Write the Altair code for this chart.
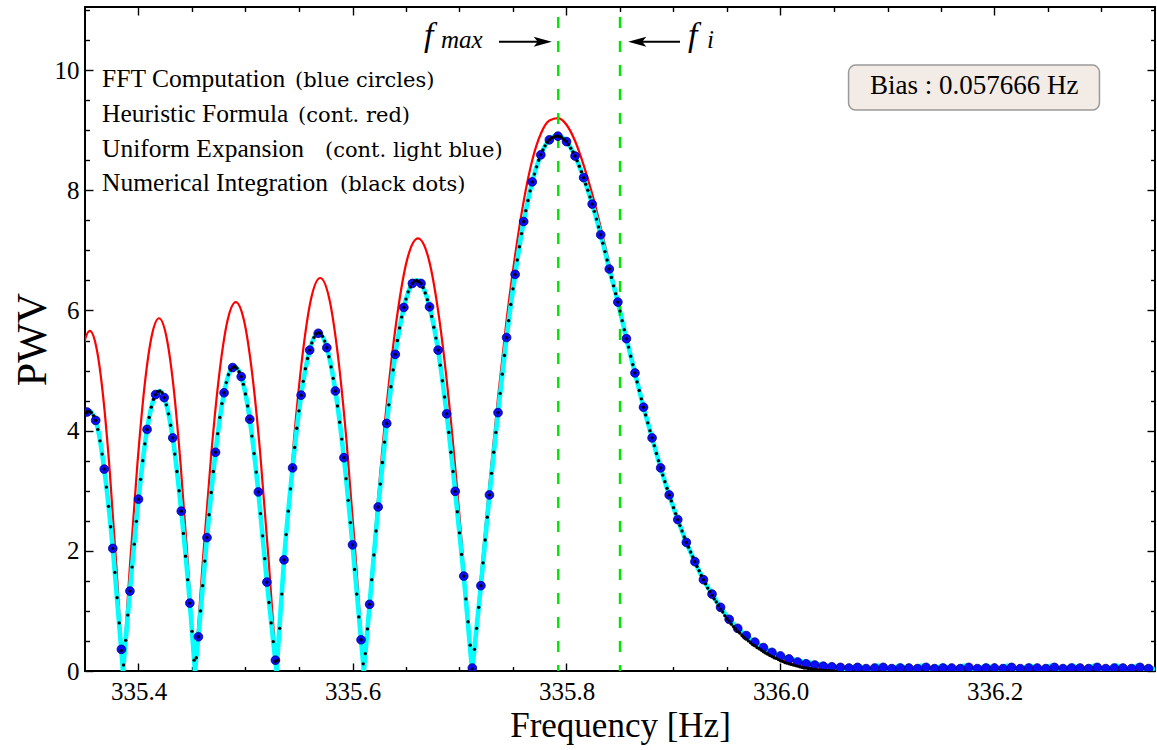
import altair as alt
import pandas as pd

# ---------------- axes / ranges ----------------
X_DOMAIN = [335.35, 336.35]
Y_DOMAIN = [0.0, 11.05]
x_major = [335.4, 335.6, 335.8, 336.0, 336.2]
x_minor = [335.45, 335.5, 335.55, 335.65, 335.7, 335.75, 335.85, 335.9, 335.95,
           336.05, 336.1, 336.15, 336.25, 336.3]
y_major = [0, 2, 4, 6, 8, 10]
y_minor = [0.5, 1, 1.5, 2.5, 3, 3.5, 4.5, 5, 5.5, 6.5, 7, 7.5, 8.5, 9, 9.5, 10.5, 11]

# ---------------- FFT computation (blue circles) ----------------
fft_x = [
    335.352, 335.360, 335.368, 335.376, 335.384, 335.392, 335.400, 335.408, 335.416, 335.424,
    335.432, 335.440, 335.448, 335.456, 335.464, 335.472, 335.480, 335.488, 335.496, 335.504,
    335.512, 335.520, 335.528, 335.536, 335.544, 335.552, 335.560, 335.568, 335.576, 335.584,
    335.592, 335.600, 335.608, 335.616, 335.624, 335.632, 335.640, 335.648, 335.656, 335.664,
    335.672, 335.680, 335.688, 335.696, 335.704, 335.712, 335.720, 335.728, 335.736, 335.744,
    335.752, 335.760, 335.768, 335.776, 335.784, 335.792, 335.800, 335.808, 335.816, 335.824,
    335.832, 335.840, 335.848, 335.856, 335.864, 335.872, 335.880, 335.888, 335.896, 335.904,
    335.912, 335.920, 335.928, 335.936, 335.944, 335.952, 335.960, 335.968, 335.976, 335.984,
    335.992, 336.000, 336.008, 336.016, 336.024, 336.032, 336.040, 336.048, 336.056, 336.064,
    336.072, 336.080, 336.088, 336.096, 336.104, 336.112, 336.120, 336.128, 336.136, 336.144,
    336.152, 336.160, 336.168, 336.176, 336.184, 336.192, 336.200, 336.208, 336.216, 336.224,
    336.232, 336.240, 336.248, 336.256, 336.264, 336.272, 336.280, 336.288, 336.296, 336.304,
    336.312, 336.320, 336.328, 336.336, 336.344]
fft_y = [
    4.31, 4.17, 3.36, 2.04, 0.36, 1.33, 2.86, 4.02, 4.60, 4.55,
    3.88, 2.66, 1.13, 0.57, 2.22, 3.64, 4.63, 5.05, 4.90, 4.19,
    2.98, 1.48, 0.18, 1.85, 3.38, 4.59, 5.34, 5.62, 5.38, 4.66,
    3.55, 2.10, 0.52, 1.11, 2.73, 4.12, 5.27, 6.05, 6.45, 6.45,
    6.06, 5.34, 4.28, 2.99, 1.58, 0.05, 1.42, 2.93, 4.30, 5.55,
    6.60, 7.48, 8.14, 8.59, 8.84, 8.90, 8.81, 8.57, 8.21, 7.77,
    7.26, 6.69, 6.14, 5.53, 4.96, 4.39, 3.88, 3.38, 2.93, 2.52,
    2.14, 1.82, 1.52, 1.28, 1.06, 0.86, 0.71, 0.59, 0.48, 0.39,
    0.31, 0.25, 0.20, 0.15, 0.12, 0.10, 0.08, 0.07, 0.06, 0.05,
    0.06, 0.04, 0.05, 0.06, 0.04, 0.05, 0.05, 0.04, 0.06, 0.04,
    0.05, 0.05, 0.04, 0.06, 0.04, 0.05, 0.05, 0.04, 0.06, 0.04,
    0.05, 0.05, 0.04, 0.06, 0.04, 0.05, 0.05, 0.04, 0.06, 0.04,
    0.05, 0.05, 0.04, 0.06, 0.04]

# ---------------- Numerical integration (black dots) ----------------
black_x = [
    335.350, 335.352, 335.354, 335.356, 335.358, 335.360, 335.362, 335.364, 335.366, 335.368,
    335.370, 335.372, 335.374, 335.376, 335.378, 335.380, 335.382, 335.384, 335.386, 335.388,
    335.390, 335.392, 335.394, 335.396, 335.398, 335.400, 335.402, 335.404, 335.406, 335.408,
    335.410, 335.412, 335.414, 335.416, 335.418, 335.420, 335.422, 335.424, 335.426, 335.428,
    335.430, 335.432, 335.434, 335.436, 335.438, 335.440, 335.442, 335.444, 335.446, 335.448,
    335.450, 335.452, 335.454, 335.456, 335.458, 335.460, 335.462, 335.464, 335.466, 335.468,
    335.470, 335.472, 335.474, 335.476, 335.478, 335.480, 335.482, 335.484, 335.486, 335.488,
    335.490, 335.492, 335.494, 335.496, 335.498, 335.500, 335.502, 335.504, 335.506, 335.508,
    335.510, 335.512, 335.514, 335.516, 335.518, 335.520, 335.522, 335.524, 335.526, 335.528,
    335.530, 335.532, 335.534, 335.536, 335.538, 335.540, 335.542, 335.544, 335.546, 335.548,
    335.550, 335.552, 335.554, 335.556, 335.558, 335.560, 335.562, 335.564, 335.566, 335.568,
    335.570, 335.572, 335.574, 335.576, 335.578, 335.580, 335.582, 335.584, 335.586, 335.588,
    335.590, 335.592, 335.594, 335.596, 335.598, 335.600, 335.602, 335.604, 335.606, 335.608,
    335.610, 335.612, 335.614, 335.616, 335.618, 335.620, 335.622, 335.624, 335.626, 335.628,
    335.630, 335.632, 335.634, 335.636, 335.638, 335.640, 335.642, 335.644, 335.646, 335.648,
    335.650, 335.652, 335.654, 335.656, 335.658, 335.660, 335.662, 335.664, 335.666, 335.668,
    335.670, 335.672, 335.674, 335.676, 335.678, 335.680, 335.682, 335.684, 335.686, 335.688,
    335.690, 335.692, 335.694, 335.696, 335.698, 335.700, 335.702, 335.704, 335.706, 335.708,
    335.710, 335.712, 335.714, 335.716, 335.718, 335.720, 335.722, 335.724, 335.726, 335.728,
    335.730, 335.732, 335.734, 335.736, 335.738, 335.740, 335.742, 335.744, 335.746, 335.748,
    335.750, 335.752, 335.754, 335.756, 335.758, 335.760, 335.762, 335.764, 335.766, 335.768,
    335.770, 335.772, 335.774, 335.776, 335.778, 335.780, 335.782, 335.784, 335.786, 335.788,
    335.790, 335.792, 335.794, 335.796, 335.798, 335.800, 335.802, 335.804, 335.806, 335.808,
    335.810, 335.812, 335.814, 335.816, 335.818, 335.820, 335.822, 335.824, 335.826, 335.828,
    335.830, 335.832, 335.834, 335.836, 335.838, 335.840, 335.842, 335.844, 335.846, 335.848,
    335.850, 335.852, 335.854, 335.856, 335.858, 335.860, 335.862, 335.864, 335.866, 335.868,
    335.870, 335.872, 335.874, 335.876, 335.878, 335.880, 335.882, 335.884, 335.886, 335.888,
    335.890, 335.892, 335.894, 335.896, 335.898, 335.900, 335.902, 335.904, 335.906, 335.908,
    335.910, 335.912, 335.914, 335.916, 335.918, 335.920, 335.922, 335.924, 335.926, 335.928,
    335.930, 335.932, 335.934, 335.936, 335.938, 335.940, 335.942, 335.944, 335.946, 335.948,
    335.950, 335.952, 335.954, 335.956, 335.958, 335.960, 335.962, 335.964, 335.966, 335.968,
    335.970, 335.972, 335.974, 335.976, 335.978, 335.980, 335.982, 335.984, 335.986, 335.988,
    335.990, 335.992, 335.994, 335.996, 335.998, 336.000, 336.002, 336.004, 336.006, 336.008,
    336.010, 336.012, 336.014, 336.016, 336.018, 336.020, 336.022, 336.024, 336.026, 336.028,
    336.030, 336.032, 336.034, 336.036, 336.038, 336.040, 336.042, 336.044, 336.046, 336.048,
    336.050]
black_y = [
    4.29, 4.31, 4.32, 4.30, 4.25, 4.17, 4.02, 3.83, 3.61, 3.36,
    3.06, 2.74, 2.40, 2.04, 1.64, 1.22, 0.80, 0.34, 0.10, 0.51,
    0.93, 1.33, 1.73, 2.11, 2.49, 2.86, 3.19, 3.50, 3.78, 4.02,
    4.22, 4.39, 4.52, 4.60, 4.65, 4.66, 4.63, 4.55, 4.43, 4.28,
    4.09, 3.88, 3.61, 3.32, 3.00, 2.66, 2.29, 1.91, 1.52, 1.13,
    0.66, 0.18, 0.22, 0.57, 1.00, 1.42, 1.83, 2.22, 2.60, 2.97,
    3.32, 3.64, 3.95, 4.22, 4.45, 4.63, 4.80, 4.93, 5.01, 5.05,
    5.06, 5.04, 4.98, 4.90, 4.77, 4.61, 4.41, 4.19, 3.91, 3.62,
    3.31, 2.98, 2.62, 2.25, 1.87, 1.48, 1.14, 0.80, 0.49, 0.16,
    0.18, 0.71, 1.28, 1.85, 2.27, 2.66, 3.03, 3.38, 3.72, 4.04,
    4.33, 4.59, 4.82, 5.03, 5.20, 5.34, 5.46, 5.55, 5.61, 5.63,
    5.62, 5.57, 5.49, 5.38, 5.23, 5.06, 4.87, 4.66, 4.41, 4.14,
    3.86, 3.55, 3.20, 2.84, 2.47, 2.10, 1.69, 1.28, 0.90, 0.52,
    0.12, 0.29, 0.70, 1.11, 1.52, 1.93, 2.33, 2.73, 3.11, 3.47,
    3.81, 4.12, 4.43, 4.73, 5.01, 5.27, 5.50, 5.71, 5.89, 6.05,
    6.19, 6.31, 6.39, 6.45, 6.49, 6.50, 6.48, 6.45, 6.38, 6.29,
    6.18, 6.06, 5.90, 5.72, 5.54, 5.34, 5.09, 4.83, 4.56, 4.28,
    3.97, 3.64, 3.32, 2.99, 2.65, 2.30, 1.94, 1.58, 1.20, 0.82,
    0.43, 0.03, 0.36, 0.71, 1.06, 1.42, 1.80, 2.18, 2.56, 2.93,
    3.29, 3.64, 3.97, 4.30, 4.62, 4.94, 5.25, 5.55, 5.83, 6.10,
    6.36, 6.60, 6.84, 7.06, 7.28, 7.48, 7.66, 7.83, 7.99, 8.14,
    8.27, 8.39, 8.50, 8.59, 8.67, 8.74, 8.80, 8.84, 8.87, 8.89,
    8.90, 8.90, 8.89, 8.87, 8.84, 8.81, 8.76, 8.70, 8.64, 8.57,
    8.49, 8.40, 8.31, 8.21, 8.10, 8.00, 7.89, 7.77, 7.65, 7.52,
    7.39, 7.26, 7.12, 6.98, 6.84, 6.69, 6.55, 6.41, 6.28, 6.14,
    5.99, 5.83, 5.68, 5.53, 5.39, 5.24, 5.10, 4.96, 4.81, 4.67,
    4.53, 4.39, 4.26, 4.13, 4.00, 3.88, 3.75, 3.62, 3.50, 3.38,
    3.26, 3.15, 3.04, 2.93, 2.83, 2.72, 2.62, 2.52, 2.42, 2.33,
    2.23, 2.14, 2.06, 1.98, 1.90, 1.82, 1.74, 1.67, 1.59, 1.52,
    1.45, 1.38, 1.32, 1.26, 1.20, 1.15, 1.09, 1.03, 0.98, 0.92,
    0.87, 0.83, 0.78, 0.74, 0.70, 0.66, 0.63, 0.59, 0.56, 0.53,
    0.50, 0.47, 0.44, 0.42, 0.39, 0.37, 0.35, 0.32, 0.30, 0.28,
    0.26, 0.24, 0.22, 0.21, 0.19, 0.17, 0.16, 0.14, 0.13, 0.12,
    0.11, 0.10, 0.09, 0.08, 0.07, 0.06, 0.05, 0.05, 0.04, 0.04,
    0.03, 0.03, 0.02, 0.02, 0.02, 0.01, 0.01, 0.01, 0.00, 0.00,
    0.00]

# ---------------- Uniform expansion (cyan line), one list per lobe ----------------
cyan_x = [
    [335.350, 335.3535, 335.360, 335.368, 335.376, 335.384, 335.3855],
    [335.3855, 335.392, 335.400, 335.408, 335.416, 335.420, 335.424, 335.432, 335.440, 335.448, 335.4528],
    [335.4528, 335.456, 335.464, 335.472, 335.480, 335.488, 335.490, 335.496, 335.504, 335.512,
     335.520, 335.528, 335.529],
    [335.529, 335.536, 335.544, 335.552, 335.560, 335.568, 335.576, 335.584, 335.592, 335.600,
     335.608, 335.6106],
    [335.6106, 335.616, 335.624, 335.632, 335.640, 335.648, 335.656, 335.660, 335.664, 335.672,
     335.680, 335.688, 335.696, 335.704, 335.7118],
    [335.7118, 335.720, 335.728, 335.736, 335.744, 335.752, 335.760, 335.768, 335.776, 335.784,
     335.792, 335.800, 335.808, 335.816, 335.824, 335.832, 335.840, 335.848, 335.856, 335.864,
     335.872, 335.880, 335.888, 335.896, 335.904, 335.912, 335.920, 335.928, 335.936, 335.944,
     335.952, 335.960, 335.968, 335.976, 335.984, 335.992, 336.000, 336.010, 336.020, 336.030,
     336.040, 336.050, 336.0617, 336.0724, 336.0818, 336.0911, 336.1014, 336.1116, 336.1217,
     336.1318, 336.1416, 336.1514, 336.1617, 336.1720, 336.1822, 336.1925, 336.2023, 336.2121,
     336.2224, 336.2327, 336.2430, 336.2533, 336.2631, 336.2729, 336.2832, 336.2935, 336.3037,
     336.3140, 336.3238, 336.3336, 336.3439, 336.3500],
]
cyan_y = [
    [4.30, 4.33, 4.17, 3.36, 2.04, 0.34, 0.0],
    [0.0, 1.33, 2.86, 4.02, 4.60, 4.66, 4.55, 3.88, 2.66, 1.13, 0.0],
    [0.0, 0.57, 2.22, 3.64, 4.63, 5.05, 5.06, 4.90, 4.19, 2.98, 1.48, 0.16, 0.0],
    [0.0, 1.85, 3.38, 4.59, 5.34, 5.63, 5.38, 4.66, 3.55, 2.10, 0.52, 0.0],
    [0.0, 1.11, 2.73, 4.12, 5.27, 6.05, 6.45, 6.50, 6.45, 6.06, 5.34, 4.28, 2.99, 1.58, 0.0],
    [0.0, 1.42, 2.93, 4.30, 5.55, 6.60, 7.48, 8.14, 8.59, 8.84,
     8.91, 8.81, 8.57, 8.21, 7.77, 7.26, 6.69, 6.14, 5.53, 4.96,
     4.39, 3.88, 3.38, 2.93, 2.52, 2.14, 1.82, 1.52, 1.28, 1.06,
     0.86, 0.71, 0.59, 0.48, 0.39, 0.31, 0.25, 0.20, 0.16, 0.13,
     0.10, 0.07, 0.02, 0.09, 0.01, 0.09, 0.01, 0.09, 0.01,
     0.09, 0.01, 0.09, 0.01, 0.09, 0.01, 0.09, 0.01, 0.09,
     0.01, 0.09, 0.01, 0.09, 0.01, 0.09, 0.01, 0.09, 0.01,
     0.09, 0.01, 0.09, 0.01, 0.05],
]

# ---------------- Heuristic formula (red line), one list per lobe ----------------
red_x = [
    [335.3235, 335.3297, 335.3359, 335.3421, 335.3483, 335.3545, 335.3607, 335.3669, 335.3731, 335.3793, 335.3855],
    [335.3855, 335.3922, 335.3990, 335.4057, 335.4124, 335.4192, 335.4259, 335.4326, 335.4393, 335.4461, 335.4528],
    [335.4528, 335.4604, 335.4680, 335.4757, 335.4833, 335.4909, 335.4985, 335.5061, 335.5138, 335.5214, 335.5290],
    [335.5290, 335.5372, 335.5453, 335.5535, 335.5616, 335.5698, 335.5780, 335.5861, 335.5943, 335.6024, 335.6106],
    [335.6106, 335.6207, 335.6308, 335.6410, 335.6511, 335.6612, 335.6713, 335.6814, 335.6916, 335.7017, 335.7118],
    [335.7118, 335.716, 335.720, 335.728, 335.736, 335.744, 335.752, 335.760, 335.768, 335.776,
     335.784, 335.792, 335.800, 335.808, 335.816, 335.824, 335.832, 335.840, 335.848, 335.856,
     335.864, 335.872, 335.880, 335.888, 335.896, 335.904, 335.912, 335.920, 335.928, 335.936,
     335.944, 335.952, 335.960, 335.968, 335.976, 335.984, 335.992, 336.000, 336.010, 336.020,
     336.030, 336.040, 336.050],
]
red_y = [
    [0.0, 1.75, 3.33, 4.58, 5.38, 5.66, 5.38, 4.58, 3.33, 1.75, 0.0],
    [0.0, 1.81, 3.45, 4.75, 5.58, 5.87, 5.58, 4.75, 3.45, 1.81, 0.0],
    [0.0, 1.90, 3.61, 4.97, 5.84, 6.14, 5.84, 4.97, 3.61, 1.90, 0.0],
    [0.0, 2.02, 3.85, 5.29, 6.22, 6.54, 6.22, 5.29, 3.85, 2.02, 0.0],
    [0.0, 2.22, 4.23, 5.82, 6.85, 7.20, 6.85, 5.82, 4.23, 2.22, 0.0],
    [0.0, 0.80, 1.58, 3.12, 4.55, 5.84, 6.92, 7.82, 8.50, 8.94,
     9.16, 9.20, 9.09, 8.82, 8.42, 7.94, 7.38, 6.78, 6.18, 5.55,
     4.97, 4.40, 3.88, 3.38, 2.93, 2.52, 2.14, 1.82, 1.52, 1.27,
     1.04, 0.84, 0.68, 0.55, 0.44, 0.34, 0.26, 0.20, 0.13, 0.08,
     0.04, 0.02, 0.00],
]

# ---------------- annotations ----------------
marker_f = [335.7923, 335.85]              # f_max and f_i (dashed green)
arrow_x1 = [335.7369, 335.9061]
arrow_x2 = [335.7770, 335.8660]
arrow_head_x = [335.7778, 335.8661]
arrow_head_shape = ["M1,0L-1,-0.55L-0.55,0L-1,0.55Z", "M-1,0L1,-0.55L0.55,0L1,0.55Z"]
arrow_y = 10.47
f_label_x = [335.6668, 335.9136]
f_label_text = ["f", "f"]
f_label_y = 10.40
f_sub_x = [335.6827, 335.9313]
f_sub_text = ["max", "i"]
f_sub_y = 10.36

legend_main = ["FFT Computation", "Heuristic Formula", "Uniform Expansion", "Numerical Integration"]
legend_note = ["(blue circles)", "(cont. red)", "(cont. light blue)", "(black dots)"]
legend_y = [9.72, 9.14, 8.56, 7.99]
legend_x = 335.366
legend_note_x = [335.5463, 335.5491, 335.5743, 335.5883]

bias_text = "Bias : 0.057666 Hz"
bias_box_x = [336.0636, 336.2981]
bias_box_y = [9.334, 10.083]
bias_text_pos = [336.181, 9.60]

# ---------------- tables ----------------
def segments(xs, ys):
    rows = []
    for s, (sx, sy) in enumerate(zip(xs, ys)):
        assert len(sx) == len(sy), (s, len(sx), len(sy))
        for o, (a, b) in enumerate(zip(sx, sy)):
            rows.append({"seg": s, "o": o, "f": a, "p": b})
    return pd.DataFrame(rows)

assert len(fft_x) == len(fft_y)
assert len(black_x) == len(black_y)
fft_df = pd.DataFrame({"f": fft_x, "p": fft_y})
black_df = pd.DataFrame({"f": black_x, "p": black_y})
cyan_df = segments(cyan_x, cyan_y)
red_df = segments(red_x, red_y)
marker_df = pd.DataFrame({"f": marker_f})
arrow_df = pd.DataFrame({"f": arrow_x1, "f2": arrow_x2, "p": [arrow_y] * 2,
                         "h": arrow_head_x, "shape": arrow_head_shape})
flab_df = pd.DataFrame({"f": f_label_x, "t": f_label_text, "p": [f_label_y] * 2})
fsub_df = pd.DataFrame({"f": f_sub_x, "t": f_sub_text, "p": [f_sub_y] * 2})
leg_df = pd.DataFrame({"f": [legend_x] * 4, "nf": legend_note_x, "p": legend_y,
                       "t": legend_main, "n": legend_note})
box_df = pd.DataFrame({"f": [bias_box_x[0]], "f2": [bias_box_x[1]],
                       "p": [bias_box_y[0]], "p2": [bias_box_y[1]],
                       "tx": [bias_text_pos[0]], "ty": [bias_text_pos[1]], "t": [bias_text]})

FONT = "Liberation Serif"
NOTE_FONT = "DejaVu Serif"
XS = alt.Scale(domain=X_DOMAIN, nice=False, zero=False)
YS = alt.Scale(domain=Y_DOMAIN, nice=False, zero=False)


def tick_axis(orient, values, size, **kw):
    return alt.Axis(orient=orient, values=values, tickSize=size, offset=-size,
                    domain=False, grid=False, ticks=True, tickColor="black",
                    tickWidth=1.4, **kw)


ax_bottom = tick_axis("bottom", x_major, 8, labels=True, format=".1f",
                      labelFont=FONT, labelFontSize=25, labelPadding=8, labelColor="black",
                      labelFlush=False, title="Frequency [Hz]", titleFont=FONT,
                      titleFontSize=35, titleFontWeight="normal", titleColor="black",
                      titlePadding=4)
ax_left = tick_axis("left", y_major, 8, labels=True, format="d",
                    labelFont=FONT, labelFontSize=25, labelPadding=6, labelColor="black",
                    title="PWV", titleFont=FONT, titleFontSize=42,
                    titleFontWeight="normal", titleColor="black", titlePadding=0)
ax_bottom_minor = tick_axis("bottom", x_minor, 4.5, labels=False, title=None)
ax_left_minor = tick_axis("left", y_minor, 4.5, labels=False, title=None)
ax_top = tick_axis("top", x_major, 8, labels=False, title=None)
ax_right = tick_axis("right", y_major, 8, labels=False, title=None)
ax_top_minor = tick_axis("top", x_minor, 4.5, labels=False, title=None)
ax_right_minor = tick_axis("right", y_minor, 4.5, labels=False, title=None)


def X(field="f:Q", axis=None):
    return alt.X(field, scale=XS, axis=axis)


def Y(field="p:Q", axis=None):
    return alt.Y(field, scale=YS, axis=axis)


red = alt.Chart(red_df).mark_line(color="#ff0000", strokeWidth=2.2,
                                  interpolate="monotone", clip=True).encode(
    x=X(axis=ax_bottom), y=Y(axis=ax_left), detail="seg:N", order="o:Q")

cyan = alt.Chart(cyan_df).mark_line(color="#00ffff", strokeWidth=4.6,
                                    interpolate="monotone", clip=True).encode(
    x=X(axis=ax_bottom_minor), y=Y(axis=ax_left_minor), detail="seg:N", order="o:Q")

markers = alt.Chart(marker_df).mark_rule(color="#00e400", strokeWidth=2.4,
                                         strokeDash=[11, 13], strokeDashOffset=14).encode(
    x=X())

fft = alt.Chart(fft_df).mark_circle(size=76, color="#0c0cff", stroke="#00008c",
                                     strokeWidth=0.8, opacity=1, clip=True).encode(
    x=X(axis=ax_top), y=Y(axis=ax_right))

black = alt.Chart(black_df).mark_circle(size=11, color="black", opacity=1, clip=True).encode(
    x=X(axis=ax_top_minor), y=Y(axis=ax_right_minor))

arrows = alt.Chart(arrow_df).mark_rule(color="black", strokeWidth=2).encode(
    x=X(), x2="f2:Q", y=Y())

heads = alt.Chart(arrow_df).mark_point(filled=True, color="black", size=330, opacity=1).encode(
    x=X("h:Q"), y=Y(), shape=alt.Shape("shape:N", scale=None))

flab = alt.Chart(flab_df).mark_text(font=FONT, fontStyle="italic", fontSize=34,
                                    align="left", baseline="alphabetic", color="black").encode(
    x=X(), y=Y(), text="t:N")

fsub = alt.Chart(fsub_df).mark_text(font=FONT, fontStyle="italic", fontSize=25,
                                    align="left", baseline="alphabetic", color="black").encode(
    x=X(), y=Y(), text="t:N")

leg_main = alt.Chart(leg_df).mark_text(font=FONT, fontSize=25.5, align="left",
                                       baseline="alphabetic", color="black").encode(
    x=X(), y=Y(), text="t:N")

leg_note = alt.Chart(leg_df).mark_text(font=NOTE_FONT, fontSize=21, align="left",
                                       baseline="alphabetic", color="black").encode(
    x=X("nf:Q"), y=Y(), text="n:N")

box = alt.Chart(box_df).mark_rect(fill="#f3ebe5", stroke="#9a9a9a", strokeWidth=1.5,
                                  cornerRadius=7).encode(
    x=X(), x2="f2:Q", y=Y(), y2="p2:Q")

box_text = alt.Chart(box_df).mark_text(font=FONT, fontSize=27, align="center",
                                       baseline="alphabetic", color="black").encode(
    x=X("tx:Q"), y=Y("ty:Q"), text="t:N")

chart = alt.layer(
    red, cyan, markers, fft, black, arrows, heads, flab, fsub,
    leg_main, leg_note, box, box_text
).resolve_axis(x="independent", y="independent").properties(
    width=1070, height=664,
    autosize=alt.AutoSizeParams(type="none"),
    padding={"left": 85, "top": 7, "right": 2, "bottom": 79},
    background="white",
).configure_view(stroke="black", strokeWidth=2)

chart.save("out.html", embed_options={"renderer": "svg", "actions": False})
